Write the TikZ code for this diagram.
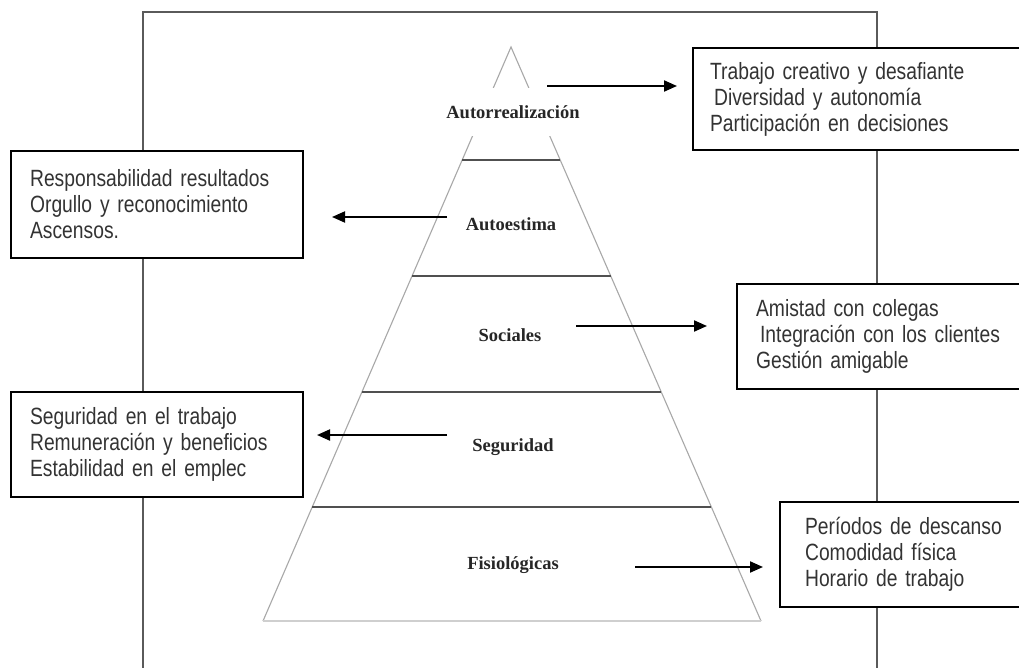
\documentclass[tikz,border=0pt]{standalone}
\usepackage{fontspec}
\setmainfont{Liberation Serif}
\newfontfamily\boxfont[FakeStretch=0.82]{Liberation Sans}
\usetikzlibrary{arrows.meta,calc}
\definecolor{framegray}{HTML}{5A5A5A}
\definecolor{sidegray}{HTML}{A8A8A8}
\definecolor{divgray}{HTML}{505050}
\definecolor{basegray}{HTML}{CFCFCF}
\definecolor{txtgray}{HTML}{333333}
\newcommand{\boxtextfont}{\boxfont\fontsize{23.5}{26}\selectfont\spaceskip=4pt plus 1pt minus 1pt\relax}
\tikzset{
  infobox/.style={draw=black, line width=2.2pt, fill=white, anchor=north west,
    align=left, text=txtgray, font=\boxtextfont, inner ysep=0pt},
  level/.style={font=\bfseries\fontsize{18.5}{20}\selectfont, text=black!85, inner sep=1pt},
  conn/.style={line width=2pt, -{Triangle[length=13pt,width=11pt]}},
  sideline/.style={sidegray, line width=1.1pt},
  divline/.style={divgray, line width=1.8pt},
}
\begin{document}
\begin{tikzpicture}[x=1pt,y=-1pt]
\useasboundingbox (0,0) rectangle (1019,668);
\clip (0,0) rectangle (1019,668);
\fill[white] (0,0) rectangle (1019,668);
% frame
\draw[framegray, line width=2pt] (143,690) -- (143,12) -- (877,12) -- (877,690);
% pyramid
\coordinate (apex) at (511,47);
\coordinate (bl) at (263,621);
\coordinate (br) at (761,621);
\draw[sideline] (bl) -- (apex) -- (br);
\draw[basegray, line width=1.5pt] (bl) -- (br);
\foreach \yy in {160,276,392,507}{
  \draw[divline] ($(apex)!{(\yy-47)/574}!(bl)$) -- ($(apex)!{(\yy-47)/574}!(br)$);
}
% level labels
\node[level, fill=white, minimum height=48pt, inner xsep=4pt] (autor) at (513,112) {Autorrealización};
\node[level] (estima) at (511,224) {Autoestima};
\node[level] (social) at (510,335) {Sociales};
\node[level] (segur) at (513,447) {Seguridad};
\node[level] (fisio) at (513,565) {Fisiológicas};
% boxes
\node[infobox, inner xsep=17pt, text width=320pt, minimum height=102pt] (b1) at (692,47)
  {Trabajo creativo y desafiante\\\hspace*{4pt}Diversidad y autonomía\\Participación en decisiones};
\node[infobox, inner xsep=19pt, text width=254pt, minimum height=107pt] (b2) at (10,150)
  {Responsabilidad resultados\\Orgullo y reconocimiento\\Ascensos.};
\node[infobox, inner xsep=19pt, text width=300pt, minimum height=105pt] (b3) at (736,283)
  {Amistad con colegas\\\hspace*{4pt}Integración con los clientes\\Gestión amigable};
\node[infobox, inner xsep=19pt, text width=254pt, minimum height=105pt] (b4) at (10,391)
  {Seguridad en el trabajo\\Remuneración y beneficios\\Estabilidad en el emplec};
\node[infobox, inner xsep=25pt, text width=260pt, minimum height=105pt] (b5) at (779,501)
  {Períodos de descanso\\Comodidad física\\Horario de trabajo};
% arrows
\coordinate (a1s) at (547,86);  \coordinate (a1e) at (677,86);
\coordinate (a2s) at (447,217); \coordinate (a2e) at (332,217);
\coordinate (a3s) at (576,326); \coordinate (a3e) at (707,326);
\coordinate (a4s) at (447,435); \coordinate (a4e) at (317,435);
\coordinate (a5s) at (635,567); \coordinate (a5e) at (763,567);
\draw[conn] (a1s) -- (a1e);
\draw[conn] (a2s) -- (a2e);
\draw[conn] (a3s) -- (a3e);
\draw[conn] (a4s) -- (a4e);
\draw[conn] (a5s) -- (a5e);
\end{tikzpicture}
\end{document}
